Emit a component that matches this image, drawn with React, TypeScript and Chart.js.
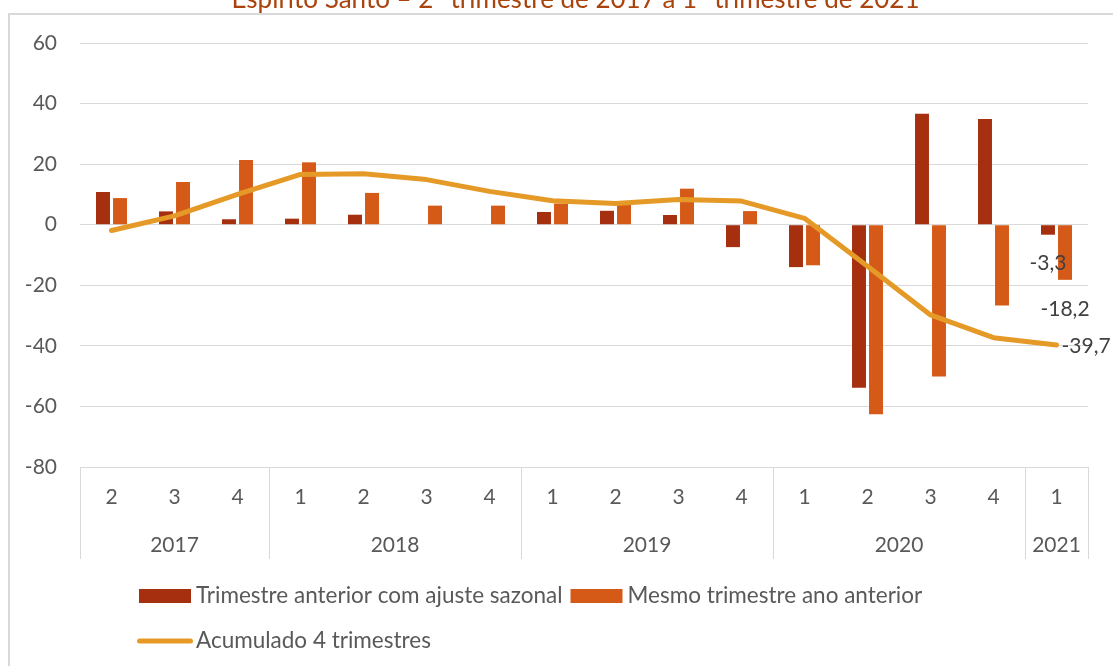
import { useEffect, useRef } from "react";
import { Chart, registerables } from "chart.js";

Chart.register(...registerables);

const titleText = "Espírito Santo – 2º trimestre de 2017 a 1º trimestre de 2021";
const quarters = ["2", "3", "4", "1", "2", "3", "4", "1", "2", "3", "4", "1", "2", "3", "4", "1"];
const years = ["2017", "2018", "2019", "2020", "2021"];
const yearSpans = [3, 4, 4, 4, 1];
const seriesNames = [
  "Trimestre anterior com ajuste sazonal",
  "Mesmo trimestre ano anterior",
  "Acumulado 4 trimestres",
];
const trimestreAnterior = [10.8, 4.4, 1.8, 2.0, 3.3, 0, 0, 4.2, 4.6, 3.2, -7.4, -14.0, -53.8, 36.6, 34.9, -3.3];
const mesmoTrimestre = [8.8, 14.1, 21.4, 20.6, 10.5, 6.3, 6.3, 7.0, 6.6, 11.9, 4.5, -13.4, -62.6, -50.1, -26.7, -18.2];
const acumulado4 = [-1.9, 2.9, 10.0, 16.6, 16.8, 14.9, 11.0, 7.9, 7.0, 8.3, 7.8, 2.1, -13.7, -29.8, -37.3, -39.7];
const labelTexts = ["-3,3", "-18,2", "-39,7"];
const yMin = -80;
const yMax = 60;
const yStep = 20;

const DARK = "#A52F0F";
const ORANGE = "#D65A17";
const LINE = "#E59A27";
const GRID = "#D9D9D9";
const TEXT = "#595959";
const FONT = "Lato";

const decorPlugin = {
  id: "decor",
  beforeDraw(chart: any) {
    const ctx = chart.ctx;
    ctx.save();
    ctx.fillStyle = "#FFFFFF";
    ctx.fillRect(0, 0, chart.width, chart.height);
    ctx.strokeStyle = GRID;
    ctx.lineWidth = 2;
    ctx.strokeRect(9, 14, 2000, 2000);
    // title (cut off at top)
    ctx.fillStyle = "#A9440F";
    ctx.font = `26px ${FONT}`;
    ctx.textAlign = "center";
    ctx.textBaseline = "alphabetic";
    ctx.fillText(titleText, 575.5, 8);
    ctx.restore();
  },
  afterDraw(chart: any) {
    const ctx = chart.ctx;
    const xs = chart.scales.x;
    const area = chart.chartArea;
    const half = (xs.getPixelForValue(1) - xs.getPixelForValue(0)) / 2;
    ctx.save();
    ctx.strokeStyle = GRID;
    ctx.lineWidth = 1;
    let idx = 0;
    const bounds: number[] = [xs.getPixelForValue(0) - half];
    yearSpans.forEach((span) => {
      idx += span;
      bounds.push(xs.getPixelForValue(idx - 1) + half);
    });
    ctx.beginPath();
    bounds.forEach((b) => {
      const bx = Math.round(b) + 0.5;
      ctx.moveTo(bx, area.bottom);
      ctx.lineTo(bx, 559);
    });
    ctx.stroke();
    ctx.fillStyle = TEXT;
    ctx.font = `21px ${FONT}`;
    ctx.textAlign = "center";
    ctx.textBaseline = "middle";
    years.forEach((yr, i) => {
      ctx.fillText(yr, (bounds[i] + bounds[i + 1]) / 2, 545);
    });

    // legend
    const ds = chart.data.datasets;
    ctx.font = `22.5px ${FONT}`;
    ctx.textAlign = "left";
    ctx.textBaseline = "middle";
    let lx = 139;
    const row1 = 596;
    [0, 1].forEach((k) => {
      ctx.fillStyle = ds[k].backgroundColor;
      ctx.fillRect(lx, row1 - 7, 52, 14);
      ctx.fillStyle = TEXT;
      ctx.fillText(ds[k].label, lx + 57, row1);
      lx += 57 + ctx.measureText(ds[k].label).width + 8;
    });
    const row2 = 641;
    ctx.strokeStyle = ds[2].borderColor;
    ctx.lineWidth = 5;
    ctx.lineCap = "round";
    ctx.beginPath();
    ctx.moveTo(139.5, row2);
    ctx.lineTo(190.5, row2);
    ctx.stroke();
    ctx.fillStyle = TEXT;
    ctx.fillText(ds[2].label, 196, row2);
    ctx.restore();
  },
  afterDatasetsDraw(chart: any) {
    const ctx = chart.ctx;
    ctx.save();
    ctx.fillStyle = "#404040";
    ctx.font = `21px ${FONT}`;
    ctx.textBaseline = "middle";
    const last = quarters.length - 1;
    [0, 1].forEach((k) => {
      const el = chart.getDatasetMeta(k).data[last];
      ctx.textAlign = "center";
      ctx.fillText(labelTexts[k], el.x, el.y + 29);
    });
    const pt = chart.getDatasetMeta(2).data[last];
    ctx.textAlign = "left";
    ctx.fillText(labelTexts[2], pt.x + 5, pt.y + 1);
    ctx.restore();
  },
};

export default function App() {
  const ref = useRef<HTMLCanvasElement | null>(null);
  useEffect(() => {
    if (!ref.current) return;
    const chart = new Chart(ref.current, {
      type: "bar",
      data: {
        labels: quarters,
        datasets: [
          {
            type: "bar",
            label: seriesNames[0],
            data: trimestreAnterior,
            backgroundColor: DARK,
            order: 1,
            categoryPercentage: 0.54,
            barPercentage: 0.82,
          },
          {
            type: "bar",
            label: seriesNames[1],
            data: mesmoTrimestre,
            backgroundColor: ORANGE,
            order: 1,
            categoryPercentage: 0.54,
            barPercentage: 0.82,
          },
          {
            type: "line",
            label: seriesNames[2],
            data: acumulado4,
            borderColor: LINE,
            backgroundColor: LINE,
            borderWidth: 5,
            borderCapStyle: "round",
            borderJoinStyle: "round",
            pointRadius: 0,
            tension: 0,
            order: 0,
          },
        ] as any,
      },
      options: {
        responsive: false,
        animation: false,
        devicePixelRatio: 1,
        layout: { padding: { top: 43, left: 0, right: 25, bottom: 0 } },
        plugins: {
          legend: { display: false },
          title: { display: false },
          tooltip: { enabled: false },
        },
        scales: {
          x: {
            grid: { display: false, drawTicks: false },
            border: { display: false },
            ticks: {
              color: TEXT,
              font: { family: FONT, size: 21 },
              padding: 18,
              maxRotation: 0,
              autoSkip: false,
            },
            afterFit: (s: any) => {
              s.height = 199;
            },
          },
          y: {
            min: yMin,
            max: yMax,
            ticks: {
              stepSize: yStep,
              color: TEXT,
              font: { family: FONT, size: 21 },
              padding: 23,
            },
            grid: { color: GRID, lineWidth: 1, drawTicks: false },
            border: { display: false },
            afterFit: (s: any) => {
              s.width = 80;
            },
          },
        },
      } as any,
      plugins: [decorPlugin],
    });
    return () => chart.destroy();
  }, []);
  return (
    <div
      style={{
        position: "fixed",
        left: 0,
        top: 0,
        width: 1113,
        height: 666,
        overflow: "hidden",
        background: "#fff",
      }}
    >
      <canvas ref={ref} width={1113} height={666} style={{ width: 1113, height: 666, display: "block" }} />
    </div>
  );
}
